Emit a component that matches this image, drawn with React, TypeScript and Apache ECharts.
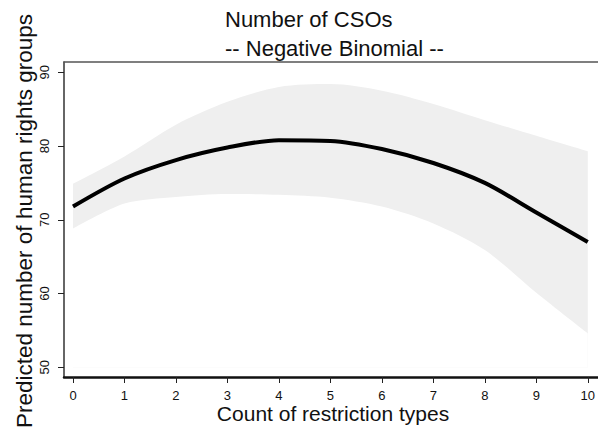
import React, { useEffect, useRef } from "react";
import * as echarts from "echarts";

const xs = [0, 1, 2, 3, 4, 5, 6, 7, 8, 9, 10];
const fitted = [71.8, 75.6, 78.1, 79.8, 80.8, 80.7, 79.6, 77.7, 75.0, 71.0, 67.0];
const upper = [74.9, 78.6, 82.9, 86.0, 88.0, 88.4, 87.5, 85.7, 83.5, 81.4, 79.3];
const lower = [68.8, 72.2, 73.1, 73.5, 73.4, 73.0, 71.8, 69.5, 65.9, 60.1, 54.6];
const yTicks = [50, 60, 70, 80, 90];

const titleText = "Number of CSOs";
const subtitleText = "-- Negative Binomial --";
const xTitle = "Count of restriction types";
const yTitle = "Predicted number of human rights groups";

const FONT = "'Liberation Sans', Arial, sans-serif";

export default function App() {
  const ref = useRef<HTMLDivElement>(null);
  useEffect(() => {
    if (!ref.current) return;
    const chart = echarts.init(ref.current, undefined, { renderer: "svg" });
    const upperData = xs.map((x, i) => [x, upper[i]]);
    const lowerData = xs.map((x, i) => [x, lower[i]]);
    const fitData = xs.map((x, i) => [x, fitted[i]]);
    const yMin = yTicks[0];
    const yMax = yTicks[yTicks.length - 1];
    chart.setOption({
      animation: false,
      backgroundColor: "#ffffff",
      textStyle: { fontFamily: FONT },
      grid: [
        { left: 73, right: 6, top: 72.3, bottom: 59.7 },
        { left: 64, right: 0, top: 62, bottom: 50 },
      ],
      xAxis: [
        {
          type: "value",
          gridIndex: 0,
          min: 0,
          max: 10,
          interval: 1,
          offset: 9.7,
          axisLine: { show: false, onZero: false },
          axisTick: { show: true, length: 6, lineStyle: { color: "#222", width: 1 } },
          axisLabel: { show: true, margin: 12, fontSize: 13, color: "#111", fontFamily: FONT },
          splitLine: { show: false },
        },
        {
          type: "value",
          gridIndex: 1,
          min: 0,
          max: 1,
          position: "bottom",
          axisLine: { show: true, onZero: false, lineStyle: { color: "#111", width: 2.5 } },
          axisTick: { show: false },
          axisLabel: { show: false },
          splitLine: { show: false },
        },
        {
          type: "value",
          gridIndex: 1,
          min: 0,
          max: 1,
          position: "top",
          axisLine: { show: true, onZero: false, lineStyle: { color: "#555", width: 1.5 } },
          axisTick: { show: false },
          axisLabel: { show: false },
          splitLine: { show: false },
        },
      ],
      yAxis: [
        {
          type: "value",
          gridIndex: 0,
          min: yMin,
          max: yMax,
          interval: 10,
          offset: 9,
          axisLine: { show: false, onZero: false },
          axisTick: { show: true, length: 6, lineStyle: { color: "#222", width: 1 } },
          axisLabel: { show: true, rotate: 90, margin: 13, fontSize: 13, color: "#111", fontFamily: FONT },
          splitLine: { show: false },
        },
        {
          type: "value",
          gridIndex: 1,
          min: 0,
          max: 1,
          position: "left",
          axisLine: { show: true, onZero: false, lineStyle: { color: "#333", width: 1.5 } },
          axisTick: { show: false },
          axisLabel: { show: false },
          splitLine: { show: false },
        },
      ],
      series: [
        {
          type: "line",
          name: "upper",
          xAxisIndex: 0,
          yAxisIndex: 0,
          data: upperData,
          smooth: 0.3,
          symbol: "none",
          lineStyle: { opacity: 0 },
          areaStyle: { color: "#efefef", opacity: 1, origin: "start" },
          silent: true,
          z: 1,
        },
        {
          type: "line",
          name: "lower",
          xAxisIndex: 0,
          yAxisIndex: 0,
          data: lowerData,
          smooth: 0.3,
          symbol: "none",
          lineStyle: { opacity: 0 },
          areaStyle: { color: "#ffffff", opacity: 1, origin: "start" },
          silent: true,
          z: 2,
        },
        {
          type: "line",
          name: "fitted",
          xAxisIndex: 0,
          yAxisIndex: 0,
          data: fitData,
          smooth: 0.3,
          symbol: "none",
          lineStyle: { color: "#000", width: 4 },
          silent: true,
          z: 3,
        },
      ],
      graphic: [
        {
          type: "text",
          x: 225,
          y: 19.5,
          style: { text: titleText, font: `22px ${FONT}`, fill: "#111", align: "left", verticalAlign: "middle" },
        },
        {
          type: "text",
          x: 225,
          y: 48.5,
          style: { text: subtitleText, font: `22px ${FONT}`, fill: "#111", align: "left", verticalAlign: "middle" },
        },
        {
          type: "text",
          x: 333,
          y: 413,
          style: { text: xTitle, font: `21px ${FONT}`, fill: "#111", align: "center", verticalAlign: "middle" },
        },
        {
          type: "text",
          x: 24,
          y: 221,
          rotation: Math.PI / 2,
          style: { text: yTitle, font: `22.5px ${FONT}`, fill: "#111", align: "center", verticalAlign: "middle" },
        },
      ],
    });
    return () => chart.dispose();
  }, []);
  return (
    <div
      ref={ref}
      style={{ position: "absolute", left: 0, top: 0, width: 598, height: 427 }}
    />
  );
}
